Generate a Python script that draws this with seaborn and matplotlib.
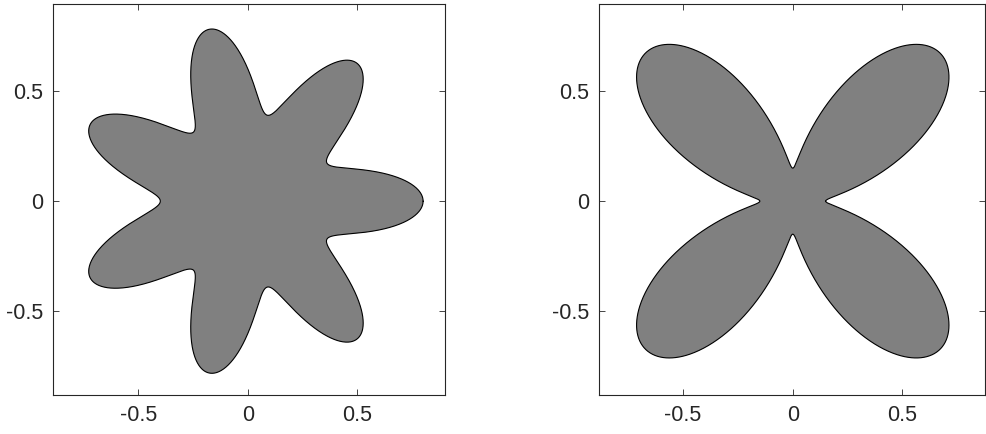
import numpy as np
import pandas as pd
import matplotlib
matplotlib.use("Agg")
import matplotlib.pyplot as plt
import seaborn as sns

sns.set_theme(style="white")
plt.rcParams["font.family"] = ["Liberation Sans", "DejaVu Sans"]

# Rose curves r(theta) = rmin + (rmax - rmin) * cos(n/2 * (theta - phase))^2
flower_petals = [7, 4]            # number of petals
flower_rmin = [0.4, 0.15]         # radius at the notches
flower_rmax = [0.8, 0.95]         # radius at the petal tips
flower_phase = [0.0, np.pi / 4]   # angle of the first petal tip

tick_values = [-0.5, 0, 0.5]
tick_labels = ["-0.5", "0", "0.5"]
xlims = [(-0.89, 0.90), (-0.883, 0.876)]
ylims = [(-0.88, 0.895), (-0.88, 0.895)]

W, H = 986, 434
fig = plt.figure(figsize=(W / 100, H / 100), dpi=100)
boxes = [
    [53 / W, 39 / H, 392 / W, 391 / H],
    [599 / W, 39 / H, 386 / W, 391 / H],
]

theta = np.linspace(0, 2 * np.pi, 2001)
spine_col = (0.15, 0.15, 0.15)

for i in range(2):
    ax = fig.add_axes(boxes[i])
    n = flower_petals[i]
    rmin, rmax = flower_rmin[i], flower_rmax[i]
    r = rmin + (rmax - rmin) * np.cos(n / 2 * (theta - flower_phase[i])) ** 2
    df = pd.DataFrame({"x": r * np.cos(theta), "y": r * np.sin(theta)})
    ax.fill(df["x"], df["y"], color=(0.5, 0.5, 0.5), lw=0)
    sns.lineplot(data=df, x="x", y="y", sort=False, estimator=None,
                 color="black", lw=0.8, ax=ax)
    ax.set_xlim(*xlims[i])
    ax.set_ylim(*ylims[i])
    ax.set_xticks(tick_values)
    ax.set_xticklabels(tick_labels)
    ax.set_yticks(tick_values)
    ax.set_yticklabels(tick_labels)
    ax.set_xlabel("")
    ax.set_ylabel("")
    for s in ax.spines.values():
        s.set_visible(True)
        s.set_color(spine_col)
        s.set_linewidth(0.8)
    ax.tick_params(direction="in", length=4, width=0.6, color=spine_col,
                   top=True, right=True, bottom=True, left=True,
                   labelsize=15.5, labelcolor=spine_col, pad=7)

fig.savefig("out.png", dpi=100)
